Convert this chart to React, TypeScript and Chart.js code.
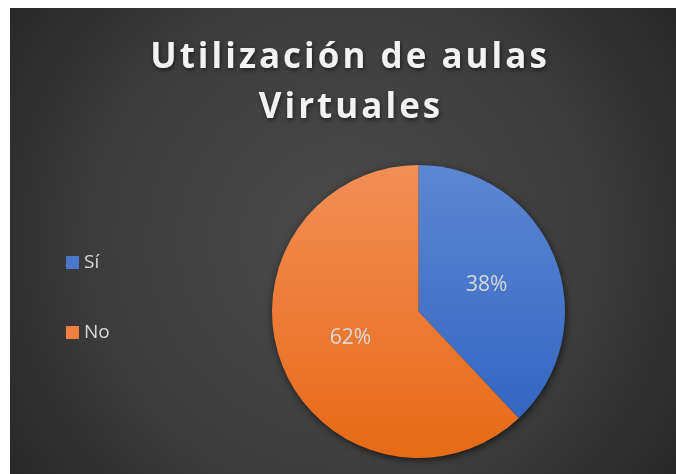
import React, { useEffect, useRef } from "react";
import { Chart, registerables } from "chart.js";

Chart.register(...registerables);

// ---- data ----
const categories = ["Sí", "No"];
const values = [38, 62];
const valueLabels = ["38%", "62%"];
const titleLines = ["Utilización de aulas", "Virtuales"];

// ---- styles ----
const sliceTop = ["#5C87D2", "#F28E57"];
const sliceBottom = ["#2E61BE", "#E66A16"];
const legendColors = ["#4A78CB", "#F08040"];
const textColor = "#D9D9D9";
const titleColor = "#F2F2F2";
const FONT = "'Open Sans', 'DejaVu Sans', sans-serif";

const W = 676;
const H = 474;
const BOX_X = 10;
const BOX_Y = 8;

const decorPlugin = {
  id: "decor",
  beforeDraw(chart: any) {
    const ctx = chart.ctx as CanvasRenderingContext2D;
    ctx.save();
    ctx.fillStyle = "#FFFFFF";
    ctx.fillRect(0, 0, W, H);
    const cx = (BOX_X + W) / 2;
    const cy = (BOX_Y + H) / 2;
    const g = ctx.createRadialGradient(cx, cy, 0, cx, cy, 420);
    g.addColorStop(0, "#4A4A4A");
    g.addColorStop(0.55, "#3E3E3E");
    g.addColorStop(1, "#262626");
    ctx.fillStyle = g;
    ctx.fillRect(BOX_X, BOX_Y, W - BOX_X, H - BOX_Y);
    ctx.restore();
  },
  beforeDatasetsDraw(chart: any) {
    const meta = chart.getDatasetMeta(0);
    const arc = meta.data[0];
    if (!arc) return;
    const ctx = chart.ctx as CanvasRenderingContext2D;
    ctx.save();
    ctx.beginPath();
    ctx.arc(arc.x, arc.y, arc.outerRadius - 1, 0, Math.PI * 2);
    ctx.shadowColor = "rgba(0,0,0,0.75)";
    ctx.shadowBlur = 8;
    ctx.shadowOffsetX = 1;
    ctx.shadowOffsetY = 2;
    ctx.fillStyle = "#303030";
    ctx.fill();
    ctx.restore();
  },
  afterDatasetsDraw(chart: any) {
    const ctx = chart.ctx as CanvasRenderingContext2D;
    const meta = chart.getDatasetMeta(0);
    ctx.save();
    // value labels
    ctx.fillStyle = textColor;
    ctx.font = `21px ${FONT}`;
    ctx.textAlign = "center";
    ctx.textBaseline = "middle";
    meta.data.forEach((el: any, i: number) => {
      const p = el.tooltipPosition();
      ctx.fillText(valueLabels[i], p.x, p.y);
    });

    // title
    ctx.font = `bold 35px ${FONT}`;
    (ctx as any).letterSpacing = "3px";
    ctx.fillStyle = titleColor;
    ctx.textBaseline = "alphabetic";
    ctx.shadowColor = "rgba(0,0,0,0.55)";
    ctx.shadowBlur = 4;
    ctx.shadowOffsetX = 1;
    ctx.shadowOffsetY = 2;
    ctx.fillText(titleLines[0], 350, 68);
    ctx.fillText(titleLines[1], 351, 118);
    ctx.shadowColor = "transparent";
    (ctx as any).letterSpacing = "0px";

    // legend
    ctx.textAlign = "left";
    ctx.textBaseline = "middle";
    ctx.font = `19px ${FONT}`;
    categories.forEach((c, i) => {
      const y = 263 + i * 70;
      ctx.fillStyle = legendColors[i];
      ctx.fillRect(66, y - 7, 13, 13);
      ctx.fillStyle = textColor;
      ctx.fillText(c, 84, y);
    });
    ctx.restore();
  },
};

export default function App() {
  const ref = useRef<HTMLCanvasElement | null>(null);
  useEffect(() => {
    if (!ref.current) return;
    const chart = new Chart(ref.current, {
      type: "pie",
      data: {
        labels: categories,
        datasets: [
          {
            data: values,
            borderWidth: 0,
            backgroundColor: (c: any) => {
              const ca = c.chart.chartArea;
              const i = c.dataIndex ?? 0;
              if (!ca) return sliceTop[i];
              const g = c.chart.ctx.createLinearGradient(0, ca.top, 0, ca.bottom);
              g.addColorStop(0, sliceTop[i]);
              g.addColorStop(1, sliceBottom[i]);
              return g;
            },
          },
        ],
      },
      options: {
        responsive: false,
        animation: false,
        layout: { padding: { left: 272, right: 111, top: 165, bottom: 16 } },
        plugins: {
          legend: { display: false },
          title: { display: false },
          tooltip: { enabled: false },
        },
      },
      plugins: [decorPlugin],
    });
    return () => chart.destroy();
  }, []);
  return (
    <div style={{ position: "fixed", left: 0, top: 0, width: W, height: H }}>
      <canvas ref={ref} width={W} height={H} style={{ display: "block" }} />
    </div>
  );
}
